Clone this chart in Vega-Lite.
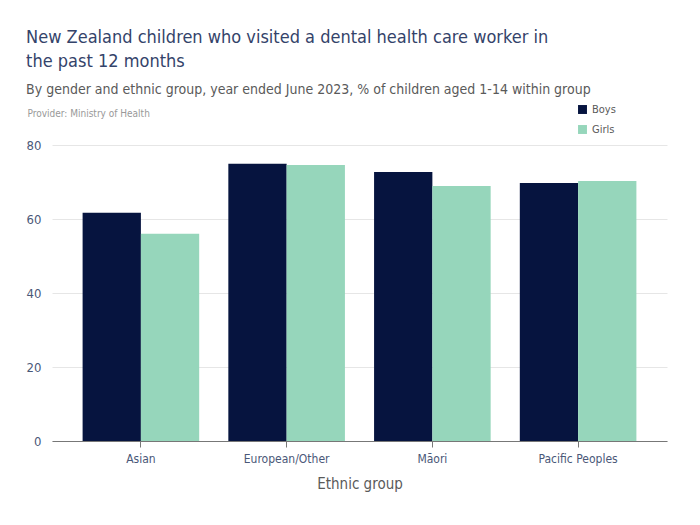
{
  "$schema": "https://vega.github.io/schema/vega-lite/v6.json",
  "width": 700,
  "height": 525,
  "autosize": {"type": "fit", "contains": "padding"},
  "padding": {"left": 26, "top": 29, "right": 33, "bottom": 34},
  "background": "white",
  "title": {
    "text": ["New Zealand children who visited a dental health care worker in", "the past 12 months"],
    "subtitle": "By gender and ethnic group, year ended June 2023, % of children aged 1-14 within group",
    "anchor": "start",
    "frame": "bounds",
    "font": "DejaVu Sans Condensed",
    "fontSize": 18,
    "fontWeight": "normal",
    "color": "#34436a",
    "lineHeight": 24,
    "subtitleFont": "DejaVu Sans Condensed",
    "subtitleFontSize": 14,
    "subtitleColor": "#5a5a5a",
    "subtitlePadding": 12,
    "offset": 11
  },
  "data": {
    "values": [
      {"group": "Asian", "gender": "Boys", "value": 61.7},
      {"group": "Asian", "gender": "Girls", "value": 56.0},
      {"group": "European/Other", "gender": "Boys", "value": 74.9},
      {"group": "European/Other", "gender": "Girls", "value": 74.6},
      {"group": "Māori", "gender": "Boys", "value": 72.7},
      {"group": "Māori", "gender": "Girls", "value": 68.9},
      {"group": "Pacific Peoples", "gender": "Boys", "value": 69.7},
      {"group": "Pacific Peoples", "gender": "Girls", "value": 70.3}
    ]
  },
  "mark": {"type": "bar"},
  "encoding": {
    "x": {
      "field": "group",
      "type": "nominal",
      "sort": null,
      "scale": {"paddingInner": 0.2, "paddingOuter": 0.21},
      "axis": {
        "title": "Ethnic group",
        "labelAngle": 0,
        "labelFont": "DejaVu Sans Condensed",
        "labelFontSize": 12,
        "labelColor": "#4a5878",
        "labelPadding": 6,
        "domainColor": "#777777",
        "tickColor": "#777777",
        "tickSize": 6,
        "titleFont": "DejaVu Sans Condensed",
        "titleFontSize": 15,
        "titleFontWeight": "normal",
        "titleColor": "#5a5a5a",
        "titlePadding": 12
      }
    },
    "xOffset": {"field": "gender", "type": "nominal"},
    "y": {
      "field": "value",
      "type": "quantitative",
      "scale": {"domain": [0, 80]},
      "axis": {
        "values": [0, 20, 40, 60, 80],
        "title": "Provider: Ministry of Health",
        "titleAngle": 0,
        "titleAlign": "left",
        "titleBaseline": "middle",
        "titleX": -25,
        "titleY": -32,
        "titleFont": "DejaVu Sans Condensed",
        "titleFontSize": 10,
        "titleFontWeight": "normal",
        "titleColor": "#999999",
        "domain": false,
        "ticks": false,
        "labelPadding": 11,
        "labelFont": "DejaVu Sans Condensed",
        "labelFontSize": 13,
        "labelColor": "#4a5878",
        "gridColor": "#e6e6e6"
      }
    },
    "color": {
      "field": "gender",
      "type": "nominal",
      "scale": {"domain": ["Boys", "Girls"], "range": ["#06143f", "#96d6bb"]},
      "legend": {
        "title": null,
        "orient": "none",
        "legendX": 525,
        "legendY": -41,
        "symbolType": "square",
        "symbolSize": 80,
        "symbolStrokeWidth": 0,
        "labelFont": "DejaVu Sans Condensed",
        "labelFontSize": 11,
        "labelColor": "#5a5a5a",
        "rowPadding": 8
      }
    }
  },
  "config": {"view": {"stroke": null}}
}
